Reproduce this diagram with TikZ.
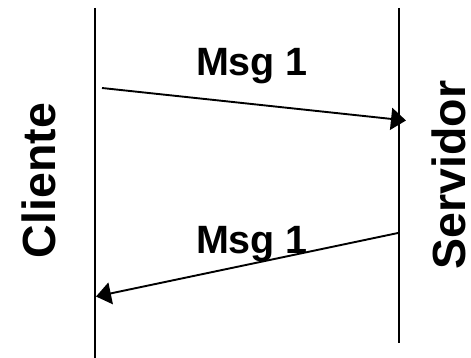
\documentclass[tikz,border=0pt]{standalone}
\usepackage{fontspec}
\setmainfont{Liberation Sans}
\usetikzlibrary{arrows.meta}
\begin{document}
\begin{tikzpicture}[x=1pt,y=-1pt,
  lifeline/.style={line width=2.6pt},
  msgarrow/.style={line width=1.9pt,-{Triangle[length=15pt,width=22pt]}},
  msglabel/.style={font=\fontsize{39.5}{40}\selectfont\bfseries,anchor=base,inner sep=0pt},
  rolelabel/.style={font=\fontsize{46.5}{47}\selectfont\bfseries,anchor=base,rotate=90,inner sep=0pt}]
\useasboundingbox (0,0) rectangle (471,358);
% lifelines
\coordinate (ctop) at (95,8);
\coordinate (cbot) at (95,358);
\coordinate (stop) at (399,8);
\coordinate (sbot) at (399,343);
\draw[lifeline] (ctop) -- (cbot);
\draw[lifeline] (stop) -- (sbot);
% labels
\node[rolelabel] (cliente) at (55,180.5) {Cliente};
\node[rolelabel] (servidor) at (465.5,175) {Servidor};
\node[msglabel] (m1) at (252,76) {Msg 1};
\node[msglabel] (m2) at (252,253) {Msg 1};
% messages
\coordinate (a1s) at (102,88);
\coordinate (a1e) at (406,120.5);
\coordinate (a2s) at (398,233);
\coordinate (a2e) at (96,296.5);
\draw[msgarrow] (a1s) -- (a1e);
\draw[msgarrow] (a2s) -- (a2e);
\end{tikzpicture}
\end{document}
